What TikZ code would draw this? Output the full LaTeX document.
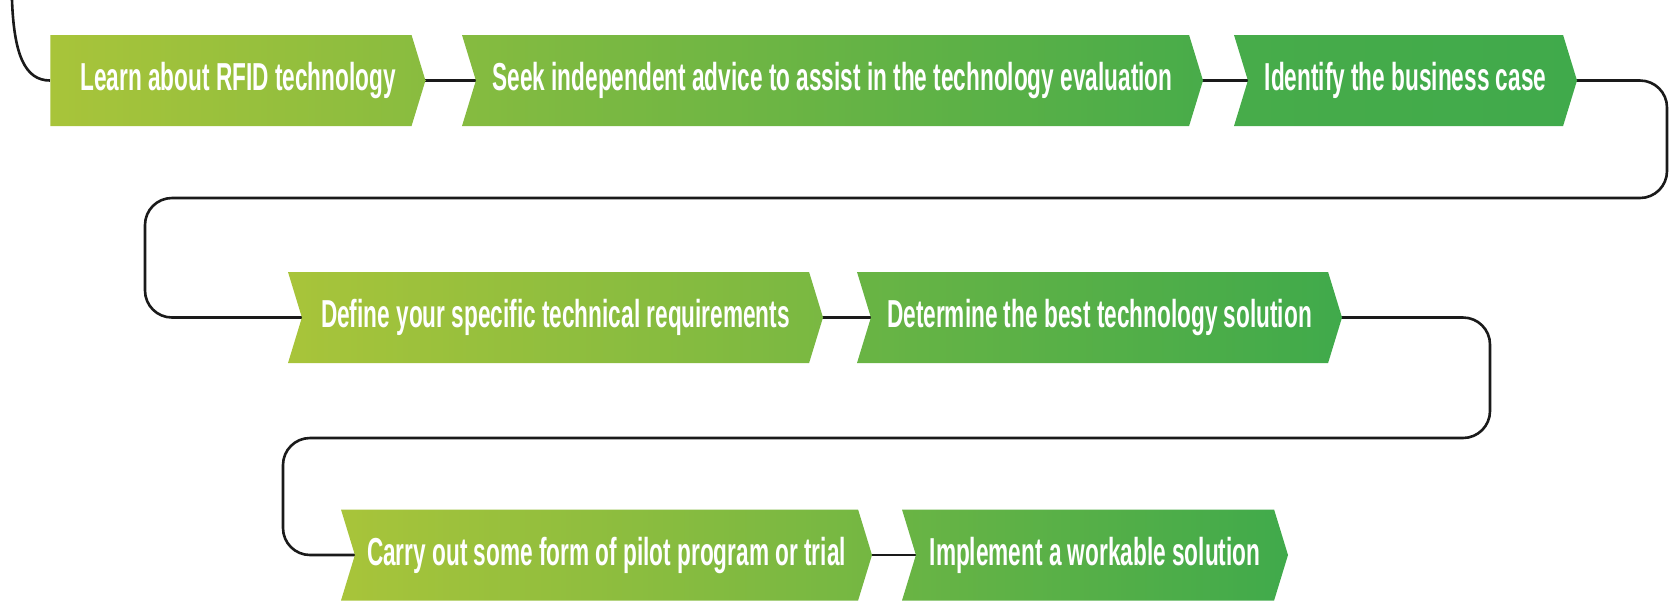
\documentclass[tikz,border=0pt]{standalone}
\usepackage{fontspec}
\newfontfamily\stepfont{Liberation Sans Bold}[FakeStretch=0.58]
\usetikzlibrary{shapes.symbols,backgrounds}

\definecolor{stepyellow}{HTML}{A8C43A}
\definecolor{stepgreen}{HTML}{40AA4B}
\definecolor{linkgray}{HTML}{1A1A1A}

\tikzset{
  stepbox/.style={signal, signal to=east, signal from=west,
    signal pointer angle=146, minimum height=45.5pt, inner sep=0pt,
    text=white, font=\stepfont\fontsize{19.5}{20}\selectfont},
  firstbox/.style={stepbox, signal from=nowhere},
  link/.style={draw=linkgray, line width=1.3pt}
}

\begin{document}
\begin{tikzpicture}[x=0.5pt,y=-0.5pt]
        \useasboundingbox (0,0) rectangle (1676,602);

        % first row
        \node[firstbox, minimum width=187.5pt, left color=stepyellow, right color=stepgreen!30!stepyellow] (learn) at (231,80.5) {\hspace*{7pt}Learn about RFID technology};
        \node[stepbox, minimum width=370.5pt, left color=stepgreen!33!stepyellow, right color=stepgreen!92!stepyellow] (advice) at (832.5,80.5) {Seek independent advice to assist in the technology evaluation};
        \node[stepbox, minimum width=171.5pt, left color=stepgreen!93!stepyellow, right color=stepgreen] (case) at (1405.5,80.5) {Identify the business case};

        % second row
        \node[stepbox, minimum width=267.5pt, left color=stepyellow, right color=stepgreen!45!stepyellow] (define) at (555.5,317.5) {Define your specific technical requirements};
        \node[stepbox, minimum width=242.5pt, left color=stepgreen!60!stepyellow, right color=stepgreen] (best) at (1099.5,317.5) {Determine the best technology solution};

        % third row
        \node[stepbox, minimum width=265.5pt, left color=stepyellow, right color=stepgreen!50!stepyellow] (pilot) at (606.5,555) {Carry out some form of pilot program or trial};
        \node[stepbox, minimum width=193pt, left color=stepgreen!60!stepyellow, right color=stepgreen] (implement) at (1095,555) {Implement a workable solution};

        \coordinate (start) at (12,0);
        \coordinate (turnA) at (1667,198);
        \coordinate (turnB) at (145,198);
        \coordinate (turnC) at (1490,438);
        \coordinate (turnD) at (283,438);

        \begin{scope}[on background layer]
          \draw[link] (start) .. controls +(2,55) and +(-25,0) .. (learn.west);
          \draw[link] (learn.center) -- (advice.center);
          \draw[link] (advice.center) -- (case.center);
          \draw[link, rounded corners=13.5pt] (case.center) -| (turnA) -- (turnB) |- (define.center);
          \draw[link] (define.center) -- (best.center);
          \draw[link, rounded corners=13.5pt] (best.center) -| (turnC) -- (turnD) |- (pilot.center);
          \draw[link] (pilot.center) -- (implement.center);
        \end{scope}
      \end{tikzpicture}
\end{document}
